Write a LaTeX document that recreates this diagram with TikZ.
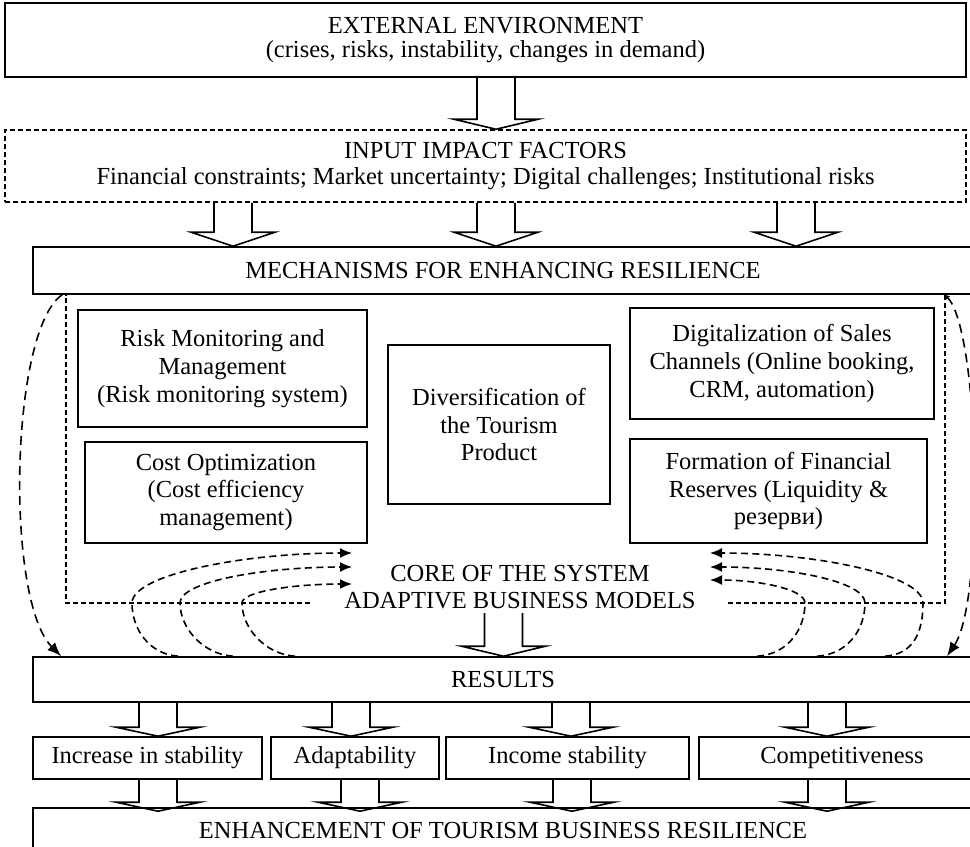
\documentclass[tikz,border=0pt]{standalone}
\usepackage{fontspec}
\setmainfont{Liberation Serif}
\usetikzlibrary{calc,arrows.meta}

\begin{document}
\begin{tikzpicture}[x=0.5bp,y=-0.5bp,
        every node/.style={font=\fontsize{12.3}{14}\selectfont, align=center, inner sep=0pt},
        box/.style={draw, line width=0.8bp},
        frame/.style={line width=0.75bp, dash pattern=on 2.4bp off 1.6bp},
        loopline/.style={line width=0.8bp, dash pattern=on 3.5bp off 2.2bp, -{Latex[length=6bp,width=5bp]}},
        sideloop/.style={line width=0.8bp, dash pattern=on 4.5bp off 3bp, -{Latex[length=7bp,width=5.5bp]}},
        blockarrow/.style={line width=0.8bp, to path={let \p1=(\tikztostart), \p2=(\tikztotarget) in
            (\x1-9.5bp,\y1) -- (\x1-9.5bp,\y2+#1) -- (\x1-21bp,\y2+#1) -- (\x1,\y2)
            -- (\x1+21bp,\y2+#1) -- (\x1+9.5bp,\y2+#1) -- (\x1+9.5bp,\y1)}},
        blockarrow/.default=5bp]

        \useasboundingbox (0,0) rectangle (970,847);
        \fill[white] (0,0) rectangle (970,847);

        % Top of the scheme
        \node[box, minimum width=480.5bp, minimum height=37bp] (ext) at (485.5,40)
            {EXTERNAL ENVIRONMENT\\[-1.5bp](crises, risks, instability, changes in demand)};
        \node[box, frame, minimum width=480.5bp, minimum height=36bp] (inp) at (485.5,166)
            {INPUT IMPACT FACTORS\\[-1bp]Financial constraints; Market uncertainty; Digital challenges; Institutional risks};
        \node[box, minimum width=470bp, minimum height=23.5bp] (mech) at (503,270.5)
            {MECHANISMS FOR ENHANCING RESILIENCE};

        % Mechanisms
        \node[box, minimum width=144.5bp, minimum height=58.5bp] (risk) at (222.5,368.5)
            {Risk Monitoring and\\Management\\(Risk monitoring system)};
        \node[box, minimum width=141bp, minimum height=50.5bp] (cost) at (226,492.5)
            {Cost Optimization\\(Cost efficiency\\management)};
        \node[box, minimum width=111bp, minimum height=79.5bp] (div) at (499,424.5)
            {Diversification of\\the Tourism\\Product};
        \node[box, minimum width=152bp, minimum height=55.5bp] (dig) at (782,363.5)
            {Digitalization of Sales\\Channels (Online booking,\\CRM, automation)};
        \node[box, minimum width=148.5bp, minimum height=52bp] (form) at (778.5,491)
            {Formation of Financial\\Reserves (Liquidity \&\\резерви)};

        % Core
        \node[inner sep=2bp] (core) at (520,587) {CORE OF THE SYSTEM\\[-0.5bp]ADAPTIVE BUSINESS MODELS};
        \draw[frame] (310,603) -| (mech.south -| 66,0);
        \draw[frame] (728,603) -| (mech.south -| 945,0);

        % Results
        \node[box, minimum width=470bp, minimum height=22.5bp] (res) at (503,679.5) {RESULTS};
        \node[box, minimum width=114.5bp, minimum height=21bp] (o1) at (147.5,758) {Increase in stability};
        \node[box, minimum width=84bp, minimum height=21bp] (o2) at (355,758) {Adaptability};
        \node[box, minimum width=121.5bp, minimum height=21bp] (o3) at (567.5,758) {Income stability};
        \node[box, minimum width=143bp, minimum height=21bp] (o4) at (842,758) {Competitiveness};
        \node[box, minimum width=470bp, minimum height=22bp] (enh) at (503,830)
            {ENHANCEMENT OF TOURISM BUSINESS RESILIENCE};

        % Block arrows
        \draw[blockarrow] (ext.south -| 496,0) to (inp.north -| 496,0);
        \foreach \xx in {233,496,796}
            \draw[blockarrow=7bp] (inp.south -| \xx,0) to (mech.north -| \xx,0);
        \draw[blockarrow] (core.south -| 503.5,0) to (res.north -| 503.5,0);
        \foreach \xx/\o in {158/o1,351/o2,571/o3,827/o4}
            \draw[blockarrow=4.5bp] (res.south -| \xx,0) to (\o.north -| \xx,0);
        \foreach \xx/\o in {158/o1,360/o2,572/o3,827/o4}
            \draw[blockarrow=4.5bp] (\o.south -| \xx,0) to ([yshift=-2bp]enh.north -| \xx,0);

        % Feedback loops into the core
        \coordinate (tipL1) at (352,553);
        \coordinate (tipL2) at (352,567);
        \coordinate (tipL3) at (352,584);
        \coordinate (tipR1) at (710,553);
        \coordinate (tipR2) at (710,567);
        \coordinate (tipR3) at (710,580);
        \draw[loopline] (res.north -| 178,0) .. controls +(-28,-2) and +(0,27) .. (132,603)
            .. controls +(0,-28) and +(-110,0) .. (tipL1);
        \draw[loopline] (res.north -| 233,0) .. controls +(-30,-2) and +(0,25) .. (180,603)
            .. controls +(0,-22) and +(-86,0) .. (tipL2);
        \draw[loopline] (res.north -| 295,0) .. controls +(-30,-2) and +(0,25) .. (242,603)
            .. controls +(0,-12) and +(-55,0) .. (tipL3);
        \draw[loopline] (res.north -| 885,0) .. controls +(30,-2) and +(0,27) .. (923,603)
            .. controls +(0,-28) and +(107,0) .. (tipR1);
        \draw[loopline] (res.north -| 817,0) .. controls +(32,-2) and +(0,25) .. (865,603)
            .. controls +(0,-22) and +(78,0) .. (tipR2);
        \draw[loopline] (res.north -| 757,0) .. controls +(32,-2) and +(0,25) .. (805,603)
            .. controls +(0,-14) and +(48,0) .. (tipR3);

        % Outer loops from mechanisms to results
        \draw[sideloop] ([xshift=15bp]mech.south west) .. controls (10,330) and (5,600)
            .. ([xshift=14.5bp]res.north west);
        \draw[sideloop, {Stealth[length=2.5bp,width=2.5bp]}-{Latex[length=7bp,width=5.5bp]}]
            (mech.south -| 945,0) .. controls (980,330) and (985,600) .. (res.north -| 947,0);

    \end{tikzpicture}
\end{document}
